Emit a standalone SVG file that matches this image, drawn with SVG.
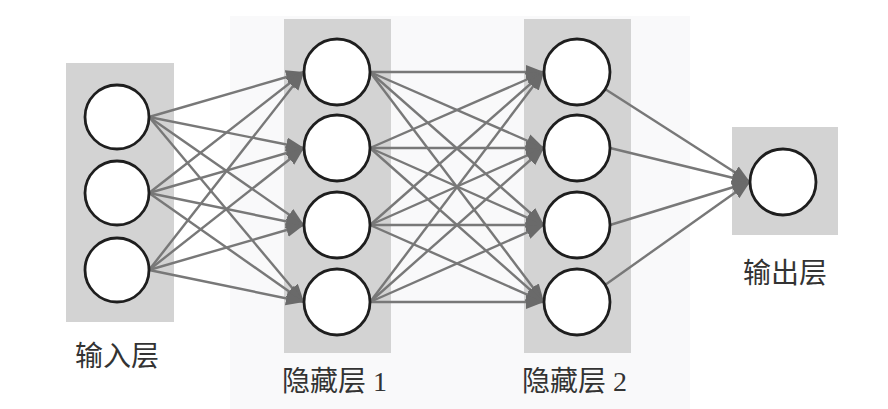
<svg xmlns="http://www.w3.org/2000/svg" width="888" height="409" viewBox="0 0 888 409">
  <style>
    .layer { fill: #d3d3d3; }
    .node { fill: #ffffff; stroke: #1e1e1e; stroke-width: 2.8; }
    .edge { stroke: #787878; stroke-width: 2.4; fill: none; marker-end: url(#arrow); }
    .label { font-family: "Liberation Serif", "Noto Sans CJK SC", serif; font-size: 28px; fill: #333333; }
  </style>
  <defs>
    <marker id="arrow" markerUnits="userSpaceOnUse" markerWidth="20" markerHeight="16" refX="18" refY="7" orient="auto">
      <path d="M0,0 L18,7 L0,14 z" fill="#6a6a6a"/>
    </marker>
  </defs>
  <rect x="0" y="0" width="888" height="409" fill="#ffffff"/>
  <rect x="230" y="16" width="460" height="393" fill="#f9f9fa"/>

  <g id="layer-input">
    <rect class="layer" x="66" y="63" width="108" height="259"/>
    <text class="label" x="75" y="366">输入层</text>
  </g>
  <g id="layer-hidden1">
    <rect class="layer" x="284" y="19" width="107" height="334"/>
    <text class="label" x="282" y="391">隐藏层 1</text>
  </g>
  <g id="layer-hidden2">
    <rect class="layer" x="524" y="19" width="107" height="334"/>
    <text class="label" x="522" y="391">隐藏层 2</text>
  </g>
  <g id="layer-output">
    <rect class="layer" x="732" y="127" width="106" height="108"/>
    <text class="label" x="743" y="283">输出层</text>
  </g>

  <g id="connectors">
    <!-- input -> hidden1 -->
    <line class="edge" x1="149" y1="117" x2="304" y2="72"/>
    <line class="edge" x1="149" y1="117" x2="304" y2="148"/>
    <line class="edge" x1="149" y1="117" x2="304" y2="225"/>
    <line class="edge" x1="149" y1="117" x2="304" y2="302"/>
    <line class="edge" x1="149" y1="193" x2="304" y2="72"/>
    <line class="edge" x1="149" y1="193" x2="304" y2="148"/>
    <line class="edge" x1="149" y1="193" x2="304" y2="225"/>
    <line class="edge" x1="149" y1="193" x2="304" y2="302"/>
    <line class="edge" x1="149" y1="270" x2="304" y2="72"/>
    <line class="edge" x1="149" y1="270" x2="304" y2="148"/>
    <line class="edge" x1="149" y1="270" x2="304" y2="225"/>
    <line class="edge" x1="149" y1="270" x2="304" y2="302"/>
    <!-- hidden1 -> hidden2 -->
    <line class="edge" x1="370" y1="72" x2="544" y2="72"/>
    <line class="edge" x1="370" y1="72" x2="544" y2="148"/>
    <line class="edge" x1="370" y1="72" x2="544" y2="225"/>
    <line class="edge" x1="370" y1="72" x2="544" y2="302"/>
    <line class="edge" x1="370" y1="148" x2="544" y2="72"/>
    <line class="edge" x1="370" y1="148" x2="544" y2="148"/>
    <line class="edge" x1="370" y1="148" x2="544" y2="225"/>
    <line class="edge" x1="370" y1="148" x2="544" y2="302"/>
    <line class="edge" x1="370" y1="225" x2="544" y2="72"/>
    <line class="edge" x1="370" y1="225" x2="544" y2="148"/>
    <line class="edge" x1="370" y1="225" x2="544" y2="225"/>
    <line class="edge" x1="370" y1="225" x2="544" y2="302"/>
    <line class="edge" x1="370" y1="302" x2="544" y2="72"/>
    <line class="edge" x1="370" y1="302" x2="544" y2="148"/>
    <line class="edge" x1="370" y1="302" x2="544" y2="225"/>
    <line class="edge" x1="370" y1="302" x2="544" y2="302"/>
    <!-- hidden2 -> output -->
    <line class="edge" x1="605" y1="89" x2="750" y2="182"/>
    <line class="edge" x1="610" y1="148" x2="750" y2="182"/>
    <line class="edge" x1="610" y1="225" x2="750" y2="182"/>
    <line class="edge" x1="605" y1="285" x2="750" y2="182"/>
  </g>

  <g id="input-1"><circle class="node" cx="117" cy="117" r="32"/></g>
  <g id="input-2"><circle class="node" cx="117" cy="193" r="32"/></g>
  <g id="input-3"><circle class="node" cx="117" cy="270" r="32"/></g>

  <g id="hidden1-1"><circle class="node" cx="337" cy="72" r="33"/></g>
  <g id="hidden1-2"><circle class="node" cx="337" cy="148" r="33"/></g>
  <g id="hidden1-3"><circle class="node" cx="337" cy="225" r="33"/></g>
  <g id="hidden1-4"><circle class="node" cx="337" cy="302" r="33"/></g>

  <g id="hidden2-1"><circle class="node" cx="577" cy="72" r="33"/></g>
  <g id="hidden2-2"><circle class="node" cx="577" cy="148" r="33"/></g>
  <g id="hidden2-3"><circle class="node" cx="577" cy="225" r="33"/></g>
  <g id="hidden2-4"><circle class="node" cx="577" cy="302" r="33"/></g>

  <g id="output-1"><circle class="node" cx="783" cy="182" r="33"/></g>
</svg>
